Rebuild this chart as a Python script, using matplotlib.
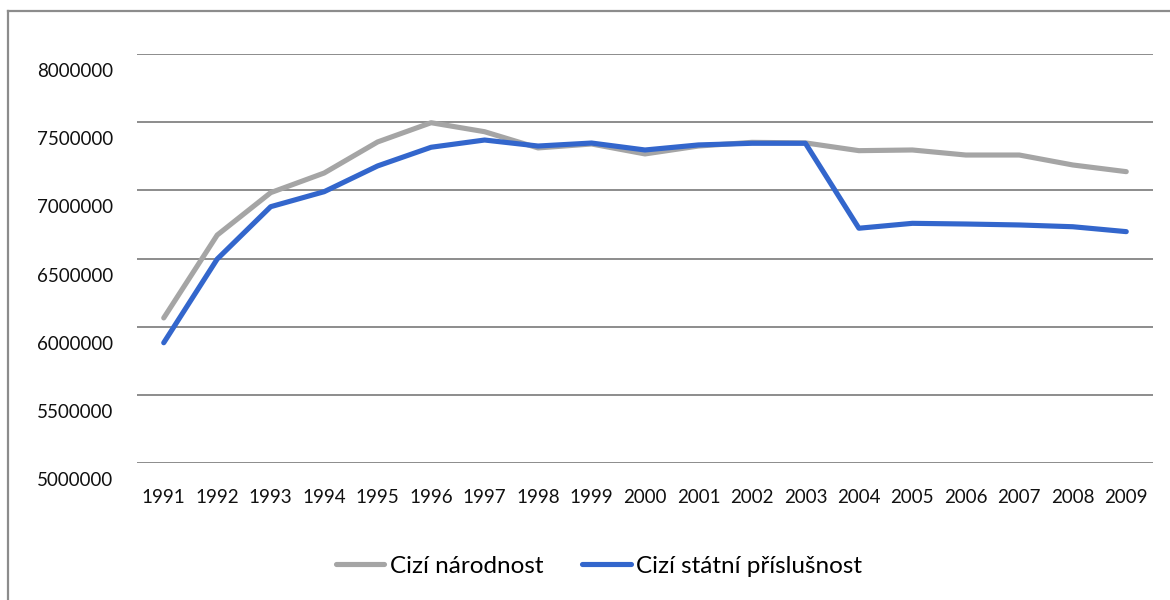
import matplotlib.pyplot as plt
import matplotlib.transforms as mtransforms
from matplotlib.lines import Line2D

# data
roky = ["1991", "1992", "1993", "1994", "1995", "1996", "1997", "1998", "1999", "2000",
        "2001", "2002", "2003", "2004", "2005", "2006", "2007", "2008", "2009"]
cizi_narodnost = [6064000, 6672000, 6983000, 7127000, 7355000, 7496000, 7430000, 7311000,
                  7340000, 7267000, 7325000, 7352000, 7348000, 7291000, 7296000, 7259000,
                  7259000, 7186000, 7137000]
cizi_statni = [5882000, 6496000, 6880000, 6990000, 7179000, 7316000, 7369000, 7325000,
               7347000, 7296000, 7333000, 7345000, 7345000, 6722000, 6758000, 6753000,
               6746000, 6733000, 6697000]
y_ticks = [5000000, 5500000, 6000000, 6500000, 7000000, 7500000, 8000000]

plt.rcParams['font.family'] = ['Lato', 'DejaVu Sans']

fig = plt.figure(figsize=(11.7, 6), dpi=100)
ax = fig.add_axes([137/1170, 1 - 463/600, (1153 - 137)/1170, (463 - 54)/600])

x = list(range(len(roky)))
ax.plot(x, cizi_narodnost, color="#A5A5A5", lw=3.7, solid_capstyle="round",
        label="Cizí národnost", zorder=3)
ax.plot(x, cizi_statni, color="#3366CC", lw=3.7, solid_capstyle="round",
        label="Cizí státní příslušnost", zorder=4)

ax.set_xlim(-0.5, len(roky) - 0.5)
ax.set_ylim(5000000, 8000000)
ax.set_xticks(x)
ax.set_xticklabels(roky, fontsize=13.5)
ax.set_yticks(y_ticks)
ax.set_yticklabels([str(v) for v in y_ticks], fontsize=13.5)
ax.tick_params(axis="both", length=0, colors="#111111")
ax.tick_params(axis="x", pad=19)
ax.tick_params(axis="y", pad=17)

# y labels sit a bit below their gridlines in the original
posun = mtransforms.ScaledTranslation(0, -0.16, fig.dpi_scale_trans)
for lab in ax.get_yticklabels():
    lab.set_transform(lab.get_transform() + posun)

ax.grid(axis="y", color="#8C8C8C", lw=1.4)
ax.set_axisbelow(True)
for s in ax.spines.values():
    s.set_visible(False)

# outer chart frame (top and left edges visible)
fig.add_artist(Line2D([8/1170, 1], [1 - 11/600, 1 - 11/600], color="#8C8C8C", lw=1.6,
                      transform=fig.transFigure))
fig.add_artist(Line2D([8/1170, 8/1170], [0, 1 - 11/600], color="#8C8C8C", lw=1.6,
                      transform=fig.transFigure))

fig.legend(loc="center", bbox_to_anchor=(0.512, 1 - 566/600), ncol=2, frameon=False,
           fontsize=17.5, handlelength=2.0, handletextpad=0.22, columnspacing=1.6)

fig.savefig("out.png", dpi=100)
